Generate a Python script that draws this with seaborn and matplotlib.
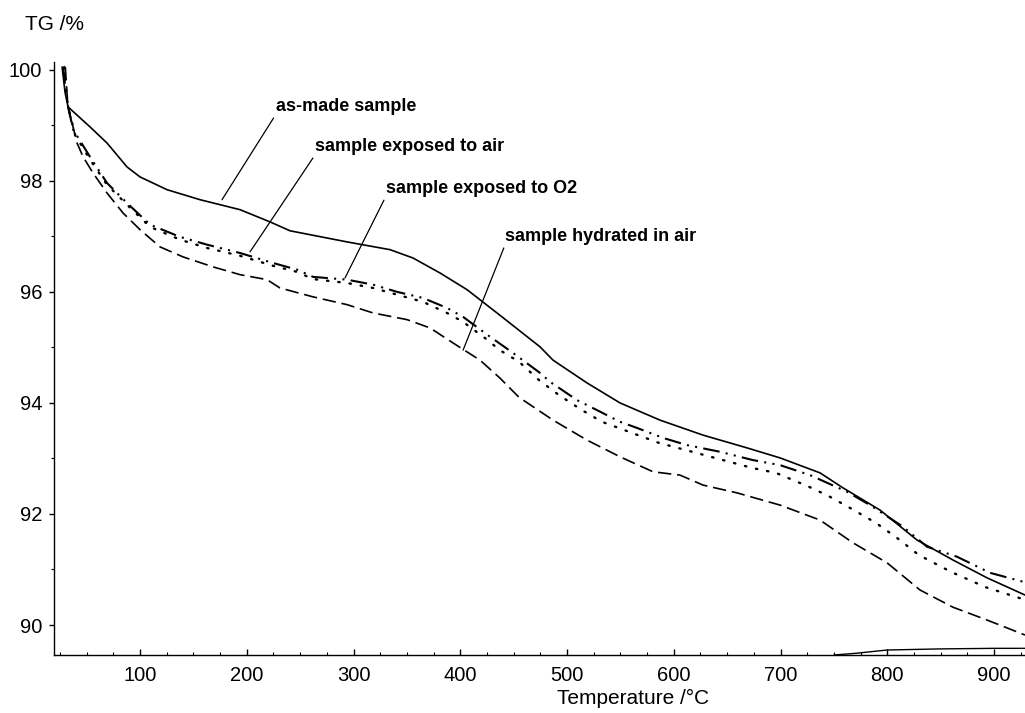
import numpy as np
import pandas as pd
import matplotlib
matplotlib.use("Agg")
import matplotlib.pyplot as plt
import seaborn as sns
from matplotlib.ticker import MultipleLocator

# krzywe TG (temperatura w °C, ubytek masy w %)
t_asmade = [27, 29.7, 32.6, 53.2, 69.1, 87.8, 100, 125.3, 156.2, 193.7, 221.8, 240.5, 293.9, 334.2,
            355.7, 381.0, 406.3, 434.4, 474.7, 486.9, 518.7, 549.6, 587.1, 627.4, 668.6, 699.5,
            737.0, 758.5, 793.2, 827.9, 861.6, 893.4, 929.0]
tg_asmade = [100.05, 99.60, 99.33, 98.97, 98.68, 98.25, 98.07, 97.84, 97.66, 97.48, 97.26, 97.10, 96.90, 96.76,
             96.61, 96.34, 96.04, 95.62, 95.01, 94.77, 94.36, 94.00, 93.69, 93.42, 93.19, 93.01,
             92.74, 92.47, 92.07, 91.53, 91.17, 90.85, 90.54]

t_air = [28, 30.5, 32.6, 37.4, 53.2, 69.1, 87.8, 109.4, 137.5, 162.8, 193.7, 224.6, 247.1, 262.1, 293.9,
         318.3, 340.8, 365.1, 387.6, 402.6, 425.1, 449.4, 474.7, 484.1, 509.4, 528.1, 549.6, 565.5,
         589.9, 612.4, 643.3, 674.2, 699.5, 727.6, 762.3, 783.8, 814.7, 837.2, 865.3, 896.3, 929.0]
tg_air = [100.05, 99.60, 99.33, 98.92, 98.43, 97.96, 97.60, 97.21, 96.99, 96.85, 96.70, 96.52, 96.40, 96.27, 96.22,
          96.13, 96.00, 95.89, 95.71, 95.55, 95.23, 94.90, 94.54, 94.38, 94.05, 93.87, 93.66, 93.55,
          93.37, 93.24, 93.12, 92.97, 92.88, 92.70, 92.40, 92.16, 91.77, 91.41, 91.23, 90.94, 90.77]

t_o2 = [29, 31, 32.6, 39.1, 53.2, 69.1, 87.8, 109.4, 137.5, 162.8, 193.7, 224.6, 247.1, 262.1, 293.9,
        318.3, 340.8, 365.1, 387.6, 402.6, 425.1, 437.0, 455.1, 473.8, 492.5, 514.0, 532.7, 558.0,
        586.1, 611.4, 642.3, 673.2, 695.7, 726.6, 745.3, 766.8, 789.3, 809.0, 829.6, 860.5, 892.3,
        923.2, 929.0]
tg_o2 = [100.05, 99.60, 99.33, 98.83, 98.38, 97.93, 97.57, 97.17, 96.94, 96.79, 96.65, 96.47, 96.36, 96.23, 96.16,
         96.07, 95.95, 95.82, 95.62, 95.46, 95.14, 94.95, 94.74, 94.41, 94.14, 93.87, 93.66, 93.48,
         93.28, 93.15, 92.99, 92.83, 92.74, 92.49, 92.32, 92.09, 91.84, 91.57, 91.26, 90.95, 90.68,
         90.49, 90.45]

t_hydr = [30, 31.5, 32.6, 41.0, 46.7, 56.0, 69.1, 84.1, 100, 118.7, 140.3, 168.4, 193.7, 218.9, 231.1,
          262.1, 293.9, 318.3, 350.1, 371.7, 393.2, 418.5, 437.0, 455.1, 486.9, 518.7, 549.6, 580.5,
          605.8, 627.4, 659.2, 699.5, 737.0, 767.9, 799.8, 830.7, 861.6, 893.4, 929.0]
tg_hydr = [100.05, 99.60, 99.33, 98.68, 98.43, 98.14, 97.78, 97.42, 97.12, 96.81, 96.63, 96.45, 96.31, 96.22, 96.07,
           95.91, 95.77, 95.62, 95.50, 95.35, 95.08, 94.77, 94.45, 94.10, 93.69, 93.33, 93.03, 92.76,
           92.70, 92.52, 92.38, 92.16, 91.89, 91.48, 91.12, 90.63, 90.32, 90.09, 89.82]

# linia bazowa przy osi X (lekko podnosi się powyżej 750 °C)
t_base = [750, 770, 790, 800, 850, 900, 929]
tg_base = [89.46, 89.49, 89.53, 89.55, 89.57, 89.58, 89.58]

sns.set_theme(style="ticks")
plt.rcParams['font.family'] = ['Liberation Sans', 'DejaVu Sans']
for k in ['text.color', 'axes.labelcolor', 'xtick.color', 'ytick.color', 'axes.edgecolor']:
    plt.rcParams[k] = 'black'

fig = plt.figure(figsize=(10.25, 7.13), dpi=100)
ax = fig.add_axes([54 / 1025, 58 / 713, 1 - 54 / 1025, 593 / 713])

sns.lineplot(x=t_asmade, y=tg_asmade, ax=ax, color='black', linewidth=1.2, sort=False)
sns.lineplot(x=t_air, y=tg_air, ax=ax, color='black', linewidth=1.5, sort=False,
             linestyle=(0, (8, 3, 1, 3, 1, 3)))
sns.lineplot(x=t_o2, y=tg_o2, ax=ax, color='black', linewidth=1.7, sort=False,
             linestyle=(0, (0.6, 4.2)), dash_capstyle='round')
sns.lineplot(x=t_hydr, y=tg_hydr, ax=ax, color='black', linewidth=1.2, sort=False,
             linestyle=(0, (8, 3.5)))
sns.lineplot(x=t_base, y=tg_base, ax=ax, color='black', linewidth=1.0, sort=False)

ax.set_xlim(19.4, 929)
ax.set_ylim(89.46, 100.14)
sns.despine(ax=ax)

ax.xaxis.set_major_locator(MultipleLocator(100))
ax.xaxis.set_minor_locator(MultipleLocator(25))
ax.yaxis.set_major_locator(MultipleLocator(2))
ax.yaxis.set_minor_locator(MultipleLocator(1))
ax.tick_params(axis='x', which='major', direction='in', length=4, width=1, pad=8, labelsize=14.5)
ax.tick_params(axis='x', which='minor', direction='in', length=2.5, width=0.8, bottom=True)
ax.tick_params(axis='y', which='major', direction='out', length=3.5, width=1, pad=5, labelsize=14.5)
ax.tick_params(axis='y', which='minor', direction='out', length=2, width=0.8, left=True)
for s in ax.spines.values():
    s.set_linewidth(1.0)

ax.set_xlabel("Temperature /°C", fontsize=15, va='top', ha='center')
ax.xaxis.set_label_coords((633 - 54) / 971, -(689 - 655) / 593)
ax.set_ylabel("TG /%", fontsize=15, rotation=0, ha='left', va='center')
ax.yaxis.set_label_coords((25 - 54) / 971, (655 - 25) / 593)

# opisy krzywych z kreskami odniesienia
labels = ["as-made sample", "sample exposed to air", "sample exposed to O2", "sample hydrated in air"]
label_xy = [(176.8, 97.66), (203.0, 96.72), (292.0, 96.25), (402.6, 94.95)]
label_txt = [(227.0, 99.19), (264.0, 98.47), (330.0, 97.71), (442.0, 96.85)]
for lab, xy, xt in zip(labels, label_xy, label_txt):
    ax.annotate(lab, xy=xy, xytext=xt, fontsize=13, fontweight='bold', ha='left', va='bottom',
                arrowprops=dict(arrowstyle='-', color='black', lw=0.9, shrinkA=0, shrinkB=0,
                                relpos=(0, 0)))

plt.savefig("out.png", dpi=100)
